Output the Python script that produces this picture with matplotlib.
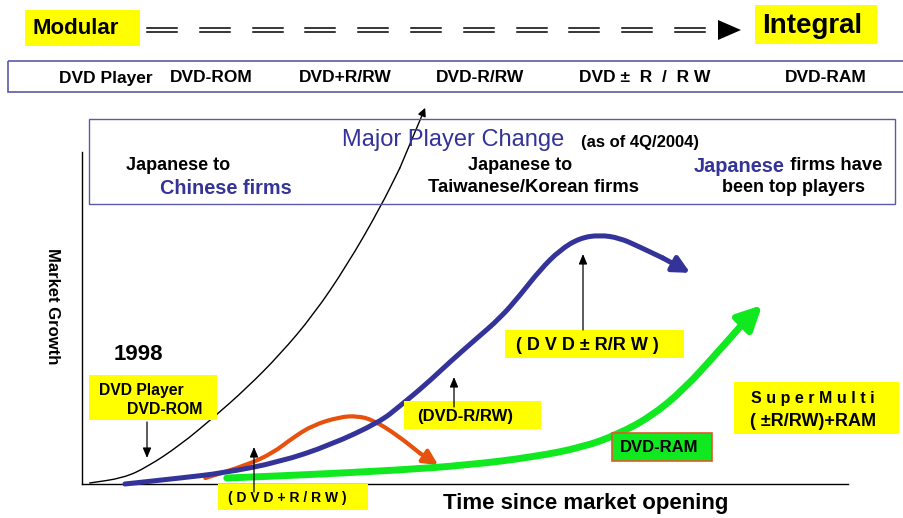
import matplotlib.pyplot as plt
from matplotlib.patches import Rectangle, Polygon, PathPatch
from matplotlib.path import Path
import numpy as np

plt.rcParams['font.family'] = ['Liberation Sans', 'DejaVu Sans']

W, H = 904, 518

# growth curves, time (0-100) vs market growth (0-100)
player_t = [1.0, 5.4, 8.5, 12.8, 17.1, 21.5, 25.8, 30.2, 34.6, 38.9, 41.5, 44.8]
player_g = [0.3, 1.8, 5.1, 11.7, 19.9, 28.9, 38.9, 50.9, 65.9, 83.1, 95.2, 113.3]

plus_r_t = [16.1, 21.5, 24.9, 27.5, 30.2, 33.7, 35.9, 38.0, 41.1, 44.1, 46.5]
plus_r_g = [1.8, 5.7, 9.3, 13.9, 17.8, 20.2, 20.5, 19.3, 14.8, 9.3, 5.7]

minus_r_t = [5.6, 12.8, 18.4, 25.8, 32.4, 38.9, 41.5, 44.8, 48.0, 51.3, 54.6, 57.2,
             59.8, 62.4, 65.0, 67.6, 70.2, 72.8, 75.8, 79.4]
minus_r_g = [0.0, 1.8, 3.3, 6.6, 11.7, 18.7, 23.5, 29.8, 36.7, 43.4, 50.0, 56.9,
             64.5, 70.5, 74.1, 75.0, 74.1, 71.4, 68.1, 63.6]

ram_t = [18.9, 28.5, 41.5, 50.3, 58.9, 65.4, 69.8, 74.2, 78.5, 82.9, 85.9, 88.8]
ram_g = [1.8, 2.7, 4.2, 5.7, 8.1, 11.1, 14.8, 20.2, 28.3, 39.5, 47.3, 53.9]

products = ['DVD Player', 'DVD-ROM', 'DVD+R/RW', 'DVD-R/RW', 'DVD ±  R  /  R W', 'DVD-RAM']
product_x = [106, 211, 345, 480, 645, 826]

BLUE = '#333399'
ORANGE = '#e8500e'
GREEN = '#10e820'
YELLOW = '#ffff00'
EDGE = '#5a5aa8'

fig = plt.figure(figsize=(W / 100, H / 100), dpi=100)

# chart area
ax = fig.add_axes([82 / W, (H - 484) / H, 766 / W, 332 / H])
ax.set_xlim(0, 100)
ax.set_ylim(0, 100)
ax.set_xticks([])
ax.set_yticks([])
for s in ['top', 'right']:
    ax.spines[s].set_visible(False)
for s in ['left', 'bottom']:
    ax.spines[s].set_linewidth(1.0)


def smooth_path(t, g):
    # quadratic bezier through the midpoints, points act as control points
    p = np.column_stack([t, g])
    verts = [p[0], (p[0] + p[1]) / 2]
    codes = [Path.MOVETO, Path.LINETO]
    for i in range(1, len(p) - 1):
        verts += [p[i], (p[i] + p[i + 1]) / 2]
        codes += [Path.CURVE3, Path.CURVE3]
    verts.append(p[-1])
    codes.append(Path.LINETO)
    return Path(verts, codes)


def curve(t, g, color, lw, head, tip=0.4):
    ax.add_patch(PathPatch(smooth_path(t[:-1], g[:-1]), fc='none', ec=color, lw=lw,
                           capstyle='round', joinstyle='round', clip_on=False, zorder=3))
    ax.annotate('', xy=(t[-1], g[-1]), xytext=(t[-2], g[-2]),
                arrowprops=dict(arrowstyle='-|>,head_length=%s,head_width=%s' % (tip, tip / 2),
                                color=color, lw=lw, shrinkA=0, shrinkB=0,
                                mutation_scale=head),
                annotation_clip=False, zorder=3)


curve(player_t, player_g, 'black', 1.0, 12)
curve(plus_r_t, plus_r_g, ORANGE, 3.0, 22)
curve(minus_r_t, minus_r_g, BLUE, 3.6, 25)
curve(ram_t, ram_g, GREEN, 5.0, 36)

# overlay in pixel coordinates for boxes and labels
top = fig.add_axes([0, 0, 1, 1], zorder=2)
top.set_xlim(0, W)
top.set_ylim(H, 0)
top.axis('off')
top.patch.set_visible(False)


def box(x0, y0, x1, y1, fc=YELLOW, ec='none', lw=0):
    top.add_patch(Rectangle((x0, y0), x1 - x0, y1 - y0, fc=fc, ec=ec, lw=lw))


def label(x, y, s, size=12, color='black', weight='bold', **kw):
    return top.text(x, y, s, fontsize=size, color=color, weight=weight,
                    ha='center', va='center', **kw)


def pointer(x, y0, y1):
    top.annotate('', xy=(x, y1), xytext=(x, y0),
                 arrowprops=dict(arrowstyle='-|>,head_length=0.6,head_width=0.25',
                                 color='black', lw=0.9, shrinkA=0, shrinkB=0,
                                 mutation_scale=10))


# Modular -> Integral banner
box(25, 10, 140, 46)
label(76, 29, 'Modular', size=16)
box(755, 5, 877, 44)
label(812, 26, 'Integral', size=20)
for x0 in 147 + 52.8 * np.arange(11):
    top.plot([x0, x0 + 30], [28.3, 28.3], color='black', lw=1.1)
    top.plot([x0, x0 + 30], [32.3, 32.3], color='black', lw=1.1)
top.add_patch(Polygon([[718, 20], [741, 30], [718, 40]], closed=True, fc='black', ec='none'))

# product row
top.add_patch(Rectangle((8, 61), 920, 31, fc='none', ec=EDGE, lw=1.2, clip_on=False))
for name, x in zip(products, product_x):
    label(x, 78, name, size=12.5)

# major player change box
top.add_patch(Rectangle((89, 119), 806, 85, fc='none', ec=EDGE, lw=1.0))
label(453, 140, 'Major Player Change', size=17, color=BLUE, weight='normal')
label(640, 142, '(as of 4Q/2004)', size=12)
label(178, 166, 'Japanese to', size=13)
label(226, 188, 'Chinese firms', size=14.3, color=BLUE)
label(520, 166, 'Japanese to', size=13)
label(534, 188, 'Taiwanese/Korean firms', size=13.3)
jp = top.text(694, 166, 'Japanese', fontsize=14.3, color=BLUE, weight='bold',
              ha='left', va='center')
top.annotate(' firms have', xy=(1, 0.5), xycoords=jp, fontsize=13.3, weight='bold',
             ha='left', va='center')
label(794, 188, 'been top players', size=13)

# axis titles
label(52, 306, 'Market Growth', size=12, rotation=270)
label(586, 503, 'Time since market opening', size=16)
label(138, 355, '1998', size=16)

# product callouts
box(89, 375, 217, 420)
label(141, 391, 'DVD Player', size=11.3)
label(165, 410, 'DVD-ROM', size=11.4)
pointer(147, 422, 458)

box(218, 484, 368, 510)
label(287, 498, '( D V D + R / R W )', size=10)
pointer(254, 492, 447)

box(404, 401, 541, 429)
label(465, 417, '(DVD-R/RW)', size=12)
pointer(454, 407, 377)

box(505, 330, 684, 358)
label(587, 345, '( D V D ± R/R W )', size=13)
pointer(583, 330, 254)

box(734, 382, 899, 434)
label(813, 399, 'S u p e r M u l t i', size=11.5)
label(813, 422, '( ±R/RW)+RAM', size=13)

box(612, 433, 712, 461, fc=GREEN, ec='#e05a28', lw=1.2)
label(659, 448, 'DVD-RAM', size=12)

fig.savefig('out.png', dpi=100)
